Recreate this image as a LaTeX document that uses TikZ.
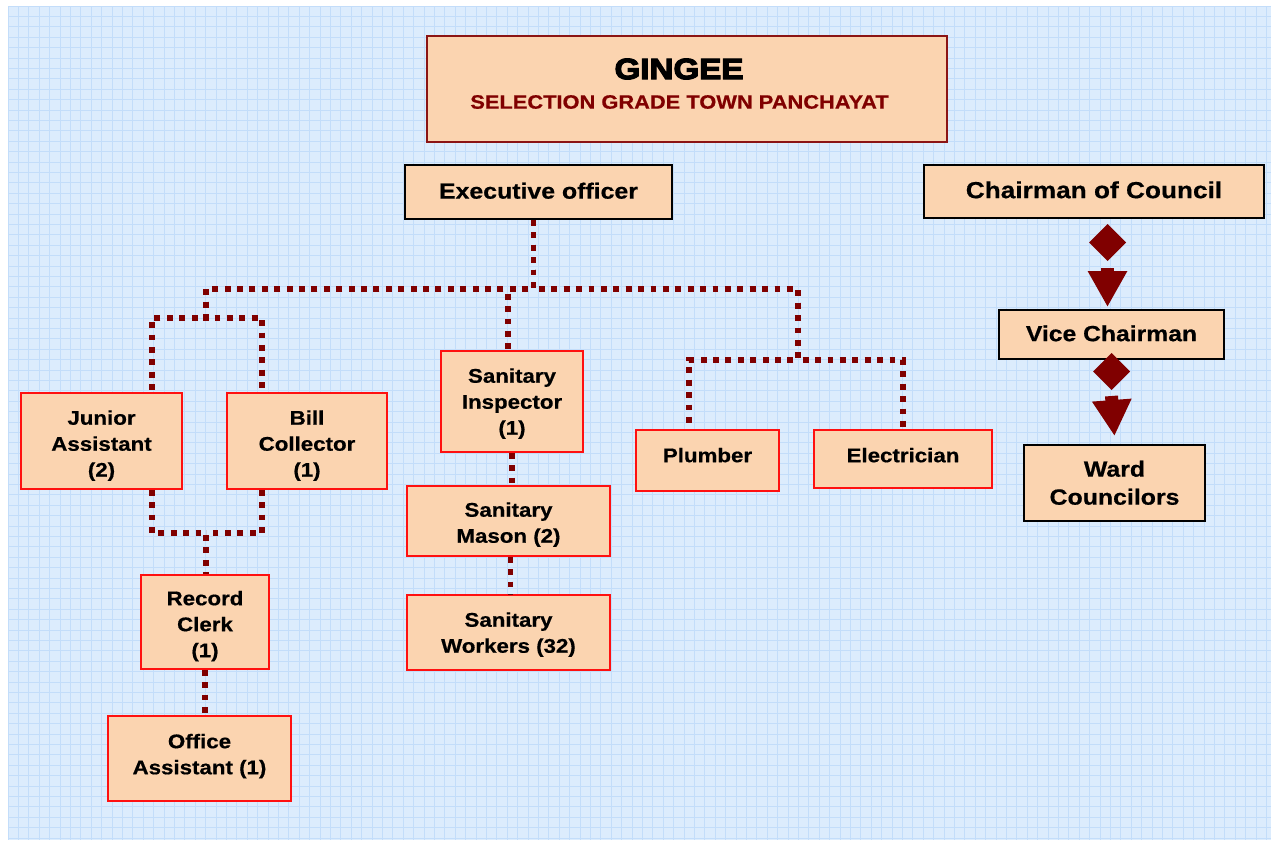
\documentclass[tikz,border=0pt]{standalone}
\usepackage{fontspec}
\setmainfont{Liberation Sans}[FakeStretch=1.13,FakeBold=0.6]
\newfontfamily\heavyfont{Liberation Sans}[FakeStretch=1.13,FakeBold=4]
\usetikzlibrary{arrows.meta,calc}
\definecolor{bgblue}{HTML}{DCECFD}
\definecolor{gridblue}{HTML}{C3DDFA}
\definecolor{peach}{HTML}{FBD4B0}
\definecolor{dred}{HTML}{800000}
\definecolor{tred}{HTML}{8B1414}
\definecolor{bred}{HTML}{FF1010}
\newcommand{\tx}[2]{\raisebox{\dimexpr-5.1pt-#1pt*3/4\relax}[0pt][0pt]{\begin{tabular}{@{}c@{}}#2\end{tabular}}}
\begin{document}
\begin{tikzpicture}[x=0.75pt,y=-0.75pt,
  sz/.style 2 args={minimum width=#1*0.75pt, minimum height=#2*0.75pt},
  box/.style={draw=bred, line width=1.2pt, fill=peach, inner sep=0pt,
    font=\bfseries\fontsize{14.8}{19.5}\selectfont},
  kbox/.style={draw=black, line width=1.5pt, fill=peach, inner sep=0pt,
    font=\bfseries\fontsize{16.5}{21}\selectfont},
  dotl/.style={dred, line width=4.4pt, dash pattern=on 4.4pt off 4.9pt},
  bigarrow/.style={dred, line width=9.75pt, -{Triangle[length=27pt,width=27.75pt]}},
]
\useasboundingbox (0,0) rectangle (1271,840);
\fill[white] (0,0) rectangle (1271,840);
\fill[bgblue] (8,6) rectangle (1271,840);
\foreach \i in {0,...,121} \draw[gridblue, line width=0.75pt] (8+\i*10.4,6) -- (8+\i*10.4,840);
\foreach \j in {0,...,80} \draw[gridblue, line width=0.75pt] (8,6+\j*10.4) -- (1271,6+\j*10.4);

% title
\node[draw=tred, line width=1.6pt, fill=peach, sz={520}{106}] (title) at (687,89) {};
\node[font=\heavyfont\bfseries\fontsize{22}{24}\selectfont] (gingee) at (679,69) {GINGEE};
\node[text=dred, font=\bfseries\fontsize{14.5}{17}\selectfont] (sel) at (679.5,102) {SELECTION GRADE TOWN PANCHAYAT};

% top level
\node[kbox, sz={267}{54}] (exec) at (538.5,192) {\tx{0}{Executive officer}};
\node[kbox, sz={340}{53}, font=\bfseries\fontsize{17.4}{21}\selectfont] (chair) at (1094,191.5) {\tx{0}{Chairman of Council}};
\node[kbox, sz={225}{49}, font=\bfseries\fontsize{16.4}{21}\selectfont] (vice) at (1111.5,334.5) {\tx{0}{Vice Chairman}};
\node[kbox, sz={181}{76}] (ward) at (1114.5,483) {\tx{1}{Ward\\Councilors}};

% staff
\node[box, sz={161}{96}] (ja) at (101.5,441) {\tx{2.5}{Junior\\Assistant\\(2)}};
\node[box, sz={160}{96}] (bc) at (307,441) {\tx{2.5}{Bill\\Collector\\(1)}};
\node[box, sz={142}{101}] (si) at (512,401.5) {\tx{0}{Sanitary\\Inspector\\(1)}};
\node[box, sz={203}{70}] (sm) at (508.5,521) {\tx{1.5}{Sanitary\\Mason (2)}};
\node[box, sz={203}{75}] (sw) at (508.5,632.5) {\tx{0}{Sanitary\\Workers (32)}};
\node[box, sz={143}{61}] (pl) at (707.5,460.5) {\tx{-5.5}{Plumber}};
\node[box, sz={178}{58}] (el) at (903,459) {\tx{-4}{Electrician}};
\node[box, sz={128}{94}] (rc) at (205,622) {\tx{2}{Record\\Clerk\\(1)}};
\node[box, sz={183}{85}] (oa) at (199.5,758.5) {\tx{-4.5}{Office\\Assistant (1)}};

% junction coordinates
\coordinate (busL) at (206,289);
\coordinate (busR) at (798,289);
\coordinate (siTop) at (508,289);
\coordinate (jaL) at (152,318);
\coordinate (jaR) at (262,318);
\coordinate (plTop) at (689,360);
\coordinate (elTop) at (903,360);
\coordinate (jb) at (206,533);
\coordinate (ex) at ($(exec.south)+(-5,0)$);
\coordinate (smB) at ($(sm.south)+(2,0)$);

% dotted connectors
\draw[dotl] (ex) |- (busL) |- (jaL) -- (jaL |- ja.north);
\draw[dotl] (ex) |- (busL) |- (jaR) -- (jaR |- bc.north);
\draw[dotl] (ex) |- (siTop) -- (siTop |- si.north);
\draw[dotl] (ex) |- (busR) |- (plTop) -- (plTop |- pl.north);
\draw[dotl] (ex) |- (busR) |- (elTop) -- (elTop |- el.north);
\draw[dotl] (jaL |- ja.south) |- (jb) -- (jb |- rc.north);
\draw[dotl] (jaR |- bc.south) |- (jb);
\draw[dotl] (rc.south) -- (rc.south |- oa.north);
\draw[dotl] (si.south) -- (si.south |- sm.north);
\draw[dotl] (smB) -- (smB |- sw.north);

% council connectors
\coordinate (c1) at ($(vice.north |- chair.south)+(-4,0)$);
\fill[dred] ($(c1)+(0,5)$) -- ++(18.5,18.5) -- ++(-18.5,18.5) -- ++(-18.5,-18.5) -- cycle;
\draw[bigarrow] ($(c1)+(0,49)$) -- ($(vice.north)+(-4,-2)$);
\coordinate (c2) at (vice.south);
\fill[dred] ($(c2)+(0,-7)$) -- ++(18.5,18.5) -- ++(-18.5,18.5) -- ++(-18.5,-18.5) -- cycle;
\draw[bigarrow] ($(c2)+(0,36)$) -- ($(ward.north)+(0,-8)$);
\end{tikzpicture}
\end{document}
